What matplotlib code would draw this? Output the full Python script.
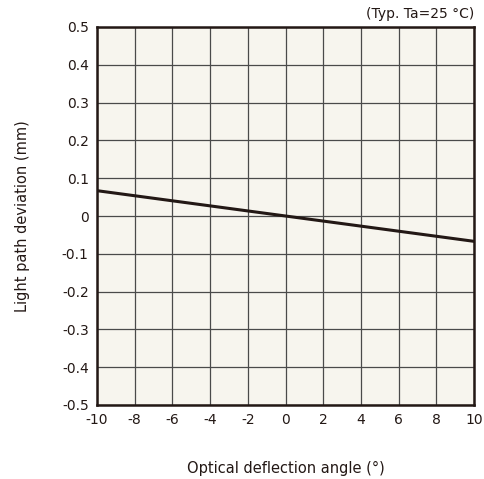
import numpy as np
import matplotlib.pyplot as plt

plt.rcParams['axes.unicode_minus'] = False

# data
angle = [-10, 0, 10]
deviation = [0.067, 0.0, -0.067]

x_ticks = list(range(-10, 11, 2))
y_ticks = [round(v, 1) for v in np.arange(-0.5, 0.51, 0.1)]
y_labels = ['0' if v == 0 else f'{v:g}' for v in y_ticks]

fig = plt.figure(figsize=(4.85, 4.79), dpi=100)
ax = fig.add_axes([97 / 485, 1 - 405 / 479, 377 / 485, 378 / 479])
ax.set_facecolor('#f7f5ee')

ax.plot(angle, deviation, color='#231815', lw=2.2, zorder=3)

ax.set_xlim(-10, 10)
ax.set_ylim(-0.5, 0.5)
ax.set_xticks(x_ticks)
ax.set_xticklabels([str(v) for v in x_ticks])
ax.set_yticks(y_ticks)
ax.set_yticklabels(y_labels)
ax.grid(True, color='#4a4a4a', lw=0.9)
ax.tick_params(length=0, labelsize=10, pad=6, colors='#231815')
for s in ax.spines.values():
    s.set_linewidth(1.8)
    s.set_color('#231815')

ax.set_xlabel('Optical deflection angle (°)', fontsize=10.5, labelpad=24, color='#231815')
ax.set_ylabel('Light path deviation (mm)', fontsize=10.5, labelpad=23, color='#231815')
fig.text(474 / 485, 1 - 14 / 479, '(Typ. Ta=25 °C)', ha='right', va='center', fontsize=10, color='#231815')

fig.savefig('out.png', dpi=100)
